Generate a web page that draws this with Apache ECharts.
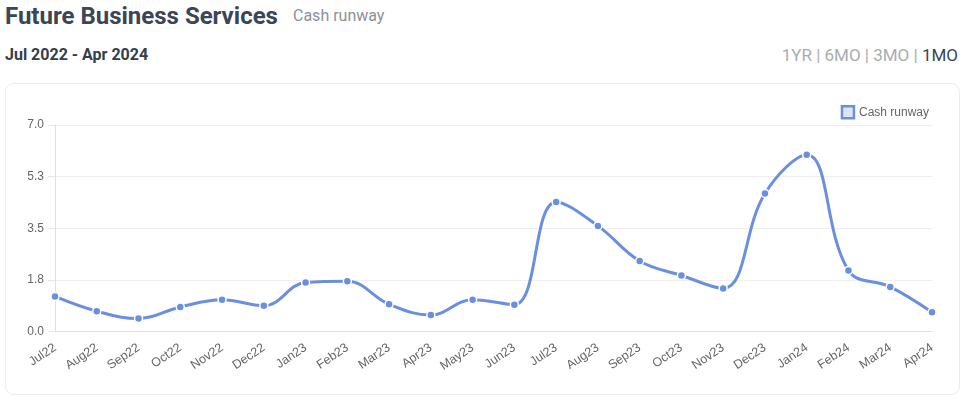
<!DOCTYPE html>
<html>
<head>
<meta charset="utf-8">
<script src="https://cdn.jsdelivr.net/npm/echarts@6/dist/echarts.min.js"></script>
<style>
  html, body { margin: 0; padding: 0; background: #fff; width: 966px; height: 401px; overflow: hidden; }
  .t { position: absolute; font-family: Roboto, "Noto Sans", sans-serif; white-space: nowrap; }
  #card { position: absolute; left: 5px; top: 83px; width: 955px; height: 312px; border: 1px solid #ececec; border-radius: 9px; box-sizing: border-box; }
  #chart { position: absolute; left: 0; top: 0; width: 966px; height: 401px; }
</style>
</head>
<body>
<div class="t" style="left:5px; top:1px; font-size:24px; font-weight:700; color:#3a4556; line-height:30px;">Future Business Services</div>
<div class="t" style="left:293px; top:5px; font-size:16px; color:#8b9099; line-height:22px;">Cash runway</div>
<div class="t" style="left:5px; top:45px; font-size:16px; font-weight:700; color:#333d4b; line-height:20px;">Jul 2022 - Apr 2024</div>
<div class="t" style="right:8px; top:45px; font-size:17px; color:#a9acb1; line-height:20px;">1YR | 6MO | 3MO | <span style="color:#3a4556;">1MO</span></div>
<div id="card"></div>
<div id="chart"></div>
<script>
const categories = ["Jul22","Aug22","Sep22","Oct22","Nov22","Dec22","Jan23","Feb23","Mar23","Apr23","May23","Jun23",
                    "Jul23","Aug23","Sep23","Oct23","Nov23","Dec23","Jan24","Feb24","Mar24","Apr24"];
const cashRunway = [1.19, 0.69, 0.44, 0.83, 1.08, 0.87, 1.66, 1.70, 0.92, 0.56, 1.08, 0.91,
                    4.39, 3.58, 2.39, 1.90, 1.46, 4.68, 5.99, 2.07, 1.51, 0.65];
const seriesName = "Cash runway";
const yMin = 0, yMax = 7, yInterval = 1.75;

const chart = echarts.init(document.getElementById('chart'), null, { renderer: 'canvas' });
chart.setOption({
  animation: false,
  legend: {
    right: 32, top: 100,
    itemWidth: 12, itemHeight: 12, itemGap: 10,
    icon: 'rect',
    textStyle: { color: '#666', fontSize: 12, fontFamily: '"Liberation Sans", Arial, sans-serif' },
    data: [{ name: seriesName, itemStyle: { color: '#dde5f4', borderColor: '#6a8fde', borderWidth: 2.5 } }]
  },
  grid: { left: 55, right: 34, top: 125, bottom: 69.5, containLabel: false },
  xAxis: {
    type: 'category',
    data: categories,
    boundaryGap: false,
    axisLine: { lineStyle: { color: '#dddddd', width: 1 } },
    axisTick: { show: false },
    axisLabel: { rotate: 34, color: '#666', fontSize: 12.5, margin: 15, interval: 0,
                 fontFamily: '"Liberation Sans", Arial, sans-serif' },
    splitLine: { show: false }
  },
  yAxis: {
    type: 'value',
    min: yMin, max: yMax, interval: yInterval,
    axisLine: { show: true, lineStyle: { color: '#e0e0e0' } },
    axisTick: { show: true, length: 7, lineStyle: { color: '#e6e6e6' } },
    axisLabel: { color: '#666', fontSize: 12, margin: 11,
                 fontFamily: '"Liberation Sans", Arial, sans-serif',
                 formatter: v => v.toFixed(1) },
    splitLine: { lineStyle: { color: '#efefef', width: 1 } }
  },
  series: [{
    name: seriesName,
    type: 'line',
    data: cashRunway,
    smooth: 0.4,
    symbol: 'circle',
    symbolSize: 8,
    showSymbol: true,
    lineStyle: { color: '#6a8fde', width: 3 },
    itemStyle: { color: '#6a8fde', borderColor: '#ffffff', borderWidth: 1.5 }
  }]
});
</script>
</body>
</html>
